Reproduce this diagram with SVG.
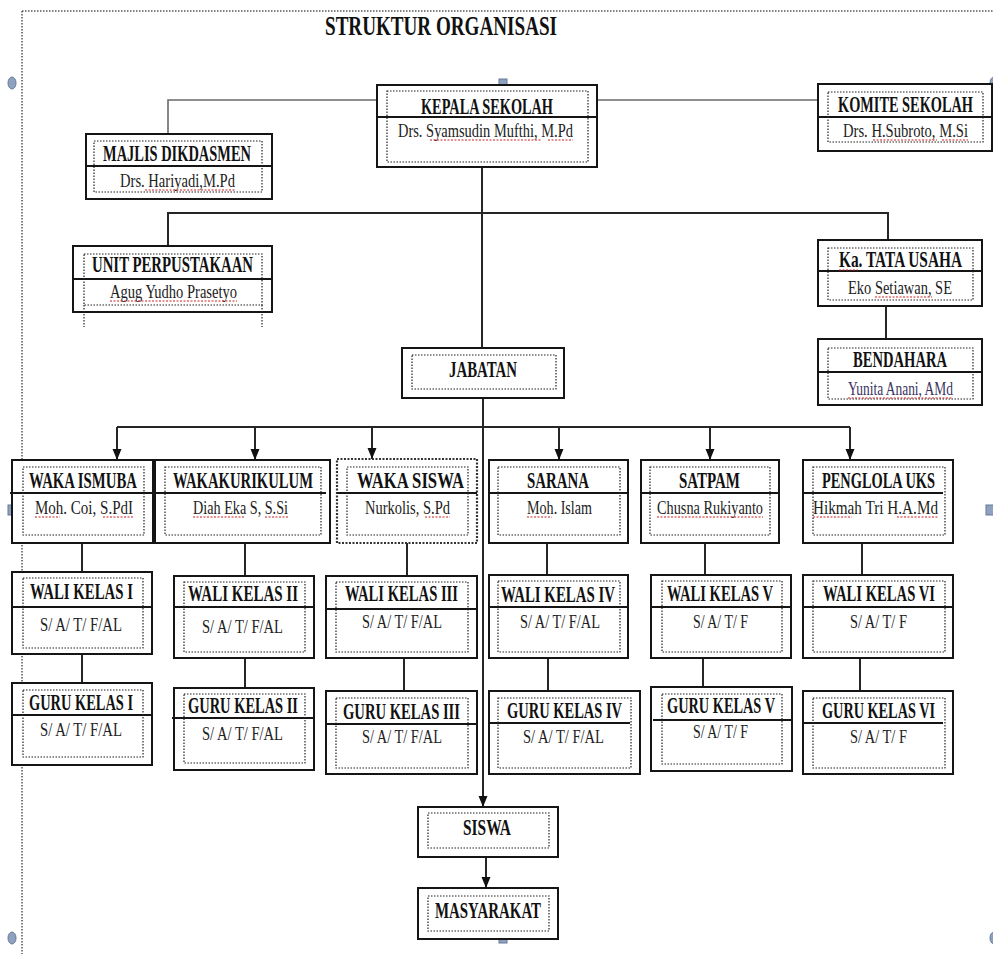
<svg xmlns="http://www.w3.org/2000/svg" width="993" height="954" viewBox="0 0 993 954">
<defs>
<style>
.box{fill:#fff;stroke:#151515;stroke-width:2}
.boxd{fill:#fff;stroke:#333;stroke-width:2.2;stroke-dasharray:2 1.5}
.dv{stroke:#151515;stroke-width:2}
.in{fill:none;stroke:#222;stroke-width:1.2;stroke-dasharray:1.5 1.5}
.t{font-family:"Liberation Serif","Times New Roman",serif;font-weight:bold;font-size:14.3px;fill:#111}
.s{font-family:"Liberation Serif","Times New Roman",serif;font-size:14.4px;fill:#222}
.c{stroke:#262626;stroke-width:2;fill:none}
.cl{stroke:#6a6a6a;stroke-width:1.6;fill:none}
.ca{stroke:#262626;stroke-width:2;fill:none;marker-end:url(#ar)}
.sq{stroke:#d02020;stroke-width:1.2;stroke-dasharray:2 1.5;fill:none}
.fr{stroke:#555;stroke-width:1.5;stroke-dasharray:1.5 1.5;fill:none}
.h{fill:#8ea2bf;stroke:#66799a;stroke-width:1}
</style>
<marker id="ar" markerUnits="userSpaceOnUse" markerWidth="12" markerHeight="12" viewBox="0 0 12 12" refX="11" refY="6" orient="auto">
<path d="M0,1.5 L11,6 L0,10.5 Z" fill="#111"/>
</marker>
</defs>
<rect width="993" height="954" fill="#fff"/>
<g id="frame">
<line class="fr" x1="22" y1="11" x2="22" y2="954"/>
<line class="fr" x1="22" y1="11" x2="993" y2="11"/>
</g>
<g id="handles">
<ellipse class="h" cx="12" cy="83" rx="4" ry="6"/>
<ellipse class="h" cx="12" cy="938" rx="4" ry="6"/>
<ellipse class="h" cx="994" cy="83" rx="4" ry="6"/>
<ellipse class="h" cx="994" cy="938" rx="4" ry="6"/>
<rect class="h" x="499" y="79" width="8" height="10"/>
<rect class="h" x="8" y="505" width="8" height="10"/>
<rect class="h" x="986" y="505" width="8" height="10"/>
<rect class="h" x="499" y="933" width="8" height="10"/>
</g>
<text id="title" class="t" style="font-size:19.1px" transform="translate(325,35) scale(1,1.41)" textLength="232" lengthAdjust="spacingAndGlyphs">STRUKTUR ORGANISASI</text>
<g id="connectors">
<path class="cl" d="M377 100 H168 V134"/>
<path class="cl" d="M597 100 H818"/>
<path class="c" d="M482 167 V348"/>
<path class="c" d="M168 246 V213 H888 V240"/>
<path class="c" d="M886 306 V339"/>
<path class="ca" d="M483 398 V807"/>
<path class="c" d="M117 427 H850"/>
<path class="ca" d="M117 427 V460"/>
<path class="ca" d="M255 427 V460"/>
<path class="ca" d="M372 427 V459"/>
<path class="ca" d="M559 427 V460"/>
<path class="ca" d="M710 427 V460"/>
<path class="ca" d="M850 427 V460"/>
<path class="c" d="M82 543 V572 M245 543 V576 M407 543 V576 M547 543 V575 M705 543 V575 M862 543 V575"/>
<path class="c" d="M82 654 V683 M245 658 V688 M404 658 V691 M548 658 V691 M703 658 V687 M860 658 V691"/>
<path class="ca" d="M486 857 V888"/>
</g>
<g id="kepala">
<rect class="box" x="377" y="85" width="220" height="82"/>
<line class="dv" x1="377" y1="117" x2="597" y2="117"/>
<rect class="in" x="387" y="91" width="201" height="71"/>
<text class="t" transform="translate(421,114) scale(1,1.55)" textLength="132" lengthAdjust="spacingAndGlyphs">KEPALA SEKOLAH</text>
<text class="s" transform="translate(398,137) scale(1,1.32)" textLength="175" lengthAdjust="spacingAndGlyphs">Drs. Syamsudin Mufthi, M.Pd</text>
<path class="sq" d="M430 140 H542 M548 140 H573"/>
</g>
<g id="majlis">
<rect class="box" x="86" y="134" width="186" height="65"/>
<line class="dv" x1="86" y1="166" x2="272" y2="166"/>
<rect class="in" x="94" y="141" width="168" height="51"/>
<text class="t" transform="translate(103,161) scale(1,1.55)" textLength="148" lengthAdjust="spacingAndGlyphs">MAJLIS DIKDASMEN</text>
<text class="s" transform="translate(120,187) scale(1,1.32)" textLength="115" lengthAdjust="spacingAndGlyphs">Drs. Hariyadi,M.Pd</text>
<path class="sq" d="M145 190 H235"/>
</g>
<g id="komite">
<rect class="box" x="818" y="84" width="174" height="67"/>
<line class="dv" x1="818" y1="117" x2="992" y2="117"/>
<rect class="in" x="828" y="92" width="155" height="50"/>
<text class="t" transform="translate(838,112) scale(1,1.55)" textLength="135" lengthAdjust="spacingAndGlyphs">KOMITE SEKOLAH</text>
<text class="s" transform="translate(843,137) scale(1,1.32)" textLength="125" lengthAdjust="spacingAndGlyphs">Drs. H.Subroto, M.Si</text>
<path class="sq" d="M873 140 H937 M942 140 H968"/>
</g>
<g id="perpustakaan">
<rect class="box" x="73" y="246" width="199" height="66"/>
<line class="dv" x1="73" y1="279" x2="272" y2="279"/>
<rect class="in" x="84" y="254" width="178" height="51"/>
<path class="in" d="M84 305 V327 M262 305 V327"/>
<text class="t" transform="translate(92,272) scale(1,1.55)" textLength="161" lengthAdjust="spacingAndGlyphs">UNIT PERPUSTAKAAN</text>
<text class="s" transform="translate(110,298) scale(1,1.32)" textLength="127" lengthAdjust="spacingAndGlyphs">Agug Yudho Prasetyo</text>
<path class="sq" d="M110 301 H237"/>
</g>
<g id="tatausaha">
<rect class="box" x="818" y="240" width="164" height="66"/>
<line class="dv" x1="818" y1="271" x2="982" y2="271"/>
<rect class="in" x="828" y="248" width="145" height="52"/>
<text class="t" transform="translate(839,267) scale(1,1.55)" textLength="123" lengthAdjust="spacingAndGlyphs">Ka. TATA USAHA</text>
<text class="s" transform="translate(848,294) scale(1,1.32)" textLength="104" lengthAdjust="spacingAndGlyphs">Eko Setiawan, SE</text>
<path class="sq" d="M839 270 H858 M875 297 H932"/>
</g>
<g id="bendahara">
<rect class="box" x="818" y="339" width="164" height="66"/>
<line class="dv" x1="818" y1="372" x2="982" y2="372"/>
<rect class="in" x="828" y="348" width="145" height="51"/>
<text class="t" transform="translate(853,367) scale(1,1.55)" textLength="94" lengthAdjust="spacingAndGlyphs">BENDAHARA</text>
<text class="s" transform="translate(848,395) scale(1,1.32)" textLength="105" lengthAdjust="spacingAndGlyphs" style="fill:#3a3560">Yunita Anani, AMd</text>
<path class="sq" d="M848 398 H953"/>
</g>
<g id="jabatan">
<rect class="box" x="402" y="348" width="162" height="50"/>
<rect class="in" x="412" y="355" width="144" height="34"/>
<text class="t" transform="translate(449,377) scale(1,1.55)" textLength="68" lengthAdjust="spacingAndGlyphs">JABATAN</text>
</g>
<g id="waka-ismuba">
<rect class="box" x="12" y="460" width="141" height="83"/>
<line class="dv" x1="10" y1="493" x2="153" y2="493"/>
<rect class="in" x="23" y="467" width="121" height="68"/>
<text class="t" transform="translate(29,488) scale(1,1.55)" textLength="108" lengthAdjust="spacingAndGlyphs">WAKA ISMUBA</text>
<text class="s" transform="translate(35,514) scale(1,1.32)" textLength="98" lengthAdjust="spacingAndGlyphs">Moh. Coi, S.PdI</text>
<path class="sq" d="M35 517 H60 M103 517 H133"/>
</g>
<g id="waka-kurikulum">
<rect class="box" x="155" y="460" width="175" height="83"/>
<line class="dv" x1="155" y1="493" x2="326" y2="493"/>
<rect class="in" x="165" y="467" width="156" height="68"/>
<text class="t" transform="translate(173,488) scale(1,1.55)" textLength="140" lengthAdjust="spacingAndGlyphs">WAKAKURIKULUM</text>
<text class="s" transform="translate(193,514) scale(1,1.32)" textLength="95" lengthAdjust="spacingAndGlyphs">Diah Eka S, S.Si</text>
<path class="sq" d="M193 517 H245 M265 517 H288"/>
</g>
<g id="waka-siswa">
<rect class="boxd" x="337" y="459" width="140" height="84"/>
<line class="dv" x1="337" y1="493" x2="477" y2="493"/>
<rect class="in" x="347" y="467" width="121" height="68"/>
<text class="t" transform="translate(357,488) scale(1,1.55)" textLength="107" lengthAdjust="spacingAndGlyphs">WAKA SISWA</text>
<text class="s" transform="translate(365,514) scale(1,1.32)" textLength="85" lengthAdjust="spacingAndGlyphs">Nurkolis, S.Pd</text>
<path class="sq" d="M425 517 H450"/>
</g>
<g id="sarana">
<rect class="box" x="489" y="460" width="139" height="83"/>
<line class="dv" x1="489" y1="493" x2="628" y2="493"/>
<rect class="in" x="498" y="467" width="122" height="68"/>
<text class="t" transform="translate(527,488) scale(1,1.55)" textLength="62" lengthAdjust="spacingAndGlyphs">SARANA</text>
<text class="s" transform="translate(527,514) scale(1,1.32)" textLength="65" lengthAdjust="spacingAndGlyphs">Moh. Islam</text>
<path class="sq" d="M527 517 H552"/>
</g>
<g id="satpam">
<rect class="box" x="641" y="460" width="138" height="83"/>
<line class="dv" x1="641" y1="493" x2="779" y2="493"/>
<rect class="in" x="650" y="467" width="120" height="68"/>
<text class="t" transform="translate(679,488) scale(1,1.55)" textLength="61" lengthAdjust="spacingAndGlyphs">SATPAM</text>
<text class="s" transform="translate(657,514) scale(1,1.32)" textLength="106" lengthAdjust="spacingAndGlyphs">Chusna Rukiyanto</text>
<path class="sq" d="M657 517 H763"/>
</g>
<g id="penglola-uks">
<rect class="box" x="803" y="460" width="150" height="83"/>
<line class="dv" x1="803" y1="493" x2="943" y2="493"/>
<rect class="in" x="813" y="467" width="132" height="68"/>
<text class="t" transform="translate(822,488) scale(1,1.55)" textLength="113" lengthAdjust="spacingAndGlyphs">PENGLOLA UKS</text>
<text class="s" transform="translate(813,514) scale(1,1.32)" textLength="125" lengthAdjust="spacingAndGlyphs">Hikmah Tri H.A.Md</text>
<path class="sq" d="M813 517 H852 M897 517 H938"/>
</g>
<g id="wali-1">
<rect class="box" x="12" y="572" width="140" height="82"/>
<line class="dv" x1="12" y1="607" x2="152" y2="607"/>
<rect class="in" x="23" y="578" width="120" height="70"/>
<text class="t" transform="translate(30,599) scale(1,1.55)" textLength="103" lengthAdjust="spacingAndGlyphs">WALI KELAS I</text>
<text class="s" transform="translate(40,631) scale(1,1.32)" textLength="82" lengthAdjust="spacingAndGlyphs">S/ A/ T/ F/AL</text>
</g>
<g id="wali-2">
<rect class="box" x="174" y="576" width="140" height="82"/>
<line class="dv" x1="174" y1="607" x2="314" y2="607"/>
<rect class="in" x="184" y="582" width="121" height="70"/>
<text class="t" transform="translate(188,601) scale(1,1.55)" textLength="110" lengthAdjust="spacingAndGlyphs">WALI KELAS II</text>
<text class="s" transform="translate(202,633) scale(1,1.32)" textLength="81" lengthAdjust="spacingAndGlyphs">S/ A/ T/ F/AL</text>
</g>
<g id="wali-3">
<rect class="box" x="326" y="576" width="151" height="82"/>
<line class="dv" x1="326" y1="609" x2="477" y2="609"/>
<rect class="in" x="336" y="582" width="132" height="70"/>
<text class="t" transform="translate(345,601) scale(1,1.55)" textLength="113" lengthAdjust="spacingAndGlyphs">WALI KELAS III</text>
<text class="s" transform="translate(362,628) scale(1,1.32)" textLength="80" lengthAdjust="spacingAndGlyphs">S/ A/ T/ F/AL</text>
</g>
<g id="wali-4">
<rect class="box" x="489" y="575" width="139" height="83"/>
<line class="dv" x1="489" y1="607" x2="628" y2="607"/>
<rect class="in" x="498" y="581" width="122" height="71"/>
<text class="t" transform="translate(501,602) scale(1,1.55)" textLength="114" lengthAdjust="spacingAndGlyphs">WALI KELAS IV</text>
<text class="s" transform="translate(520,628) scale(1,1.32)" textLength="80" lengthAdjust="spacingAndGlyphs">S/ A/ T/ F/AL</text>
</g>
<g id="wali-5">
<rect class="box" x="651" y="575" width="140" height="83"/>
<line class="dv" x1="651" y1="607" x2="791" y2="607"/>
<rect class="in" x="662" y="581" width="120" height="71"/>
<text class="t" transform="translate(667,601) scale(1,1.55)" textLength="106" lengthAdjust="spacingAndGlyphs">WALI KELAS V</text>
<text class="s" transform="translate(693,628) scale(1,1.32)" textLength="55" lengthAdjust="spacingAndGlyphs">S/ A/ T/ F</text>
</g>
<g id="wali-6">
<rect class="box" x="803" y="575" width="150" height="83"/>
<line class="dv" x1="803" y1="607" x2="953" y2="607"/>
<rect class="in" x="813" y="581" width="132" height="71"/>
<text class="t" transform="translate(823,601) scale(1,1.55)" textLength="112" lengthAdjust="spacingAndGlyphs">WALI KELAS VI</text>
<text class="s" transform="translate(850,628) scale(1,1.32)" textLength="57" lengthAdjust="spacingAndGlyphs">S/ A/ T/ F</text>
</g>
<g id="guru-1">
<rect class="box" x="12" y="683" width="140" height="82"/>
<line class="dv" x1="12" y1="715" x2="152" y2="715"/>
<rect class="in" x="23" y="690" width="120" height="67"/>
<text class="t" transform="translate(29,710) scale(1,1.55)" textLength="104" lengthAdjust="spacingAndGlyphs">GURU KELAS I</text>
<text class="s" transform="translate(40,736) scale(1,1.32)" textLength="82" lengthAdjust="spacingAndGlyphs">S/ A/ T/ F/AL</text>
</g>
<g id="guru-2">
<rect class="box" x="174" y="688" width="140" height="82"/>
<line class="dv" x1="172" y1="718" x2="314" y2="718"/>
<rect class="in" x="184" y="694" width="121" height="69"/>
<text class="t" transform="translate(188,713) scale(1,1.55)" textLength="110" lengthAdjust="spacingAndGlyphs">GURU KELAS II</text>
<text class="s" transform="translate(202,740) scale(1,1.32)" textLength="81" lengthAdjust="spacingAndGlyphs">S/ A/ T/ F/AL</text>
</g>
<g id="guru-3">
<rect class="box" x="326" y="691" width="151" height="83"/>
<line class="dv" x1="326" y1="724" x2="477" y2="724"/>
<rect class="in" x="336" y="698" width="132" height="70"/>
<text class="t" transform="translate(343,719) scale(1,1.55)" textLength="117" lengthAdjust="spacingAndGlyphs">GURU KELAS III</text>
<text class="s" transform="translate(362,743) scale(1,1.32)" textLength="80" lengthAdjust="spacingAndGlyphs">S/ A/ T/ F/AL</text>
</g>
<g id="guru-4">
<rect class="box" x="489" y="691" width="151" height="83"/>
<line class="dv" x1="489" y1="723" x2="630" y2="723"/>
<rect class="in" x="498" y="698" width="133" height="70"/>
<text class="t" transform="translate(507,718) scale(1,1.55)" textLength="115" lengthAdjust="spacingAndGlyphs">GURU KELAS IV</text>
<text class="s" transform="translate(523,743) scale(1,1.32)" textLength="81" lengthAdjust="spacingAndGlyphs">S/ A/ T/ F/AL</text>
</g>
<g id="guru-5">
<rect class="box" x="651" y="687" width="141" height="84"/>
<line class="dv" x1="653" y1="720" x2="792" y2="720"/>
<rect class="in" x="662" y="694" width="120" height="70"/>
<text class="t" transform="translate(667,713) scale(1,1.55)" textLength="108" lengthAdjust="spacingAndGlyphs">GURU KELAS V</text>
<text class="s" transform="translate(693,738) scale(1,1.32)" textLength="55" lengthAdjust="spacingAndGlyphs">S/ A/ T/ F</text>
</g>
<g id="guru-6">
<rect class="box" x="803" y="691" width="150" height="83"/>
<line class="dv" x1="803" y1="723" x2="943" y2="723"/>
<rect class="in" x="813" y="698" width="132" height="70"/>
<text class="t" transform="translate(822,718) scale(1,1.55)" textLength="113" lengthAdjust="spacingAndGlyphs">GURU KELAS VI</text>
<text class="s" transform="translate(850,743) scale(1,1.32)" textLength="57" lengthAdjust="spacingAndGlyphs">S/ A/ T/ F</text>
</g>
<g id="siswa">
<rect class="box" x="418" y="807" width="140" height="50"/>
<rect class="in" x="428" y="813" width="121" height="35"/>
<text class="t" transform="translate(463,835) scale(1,1.55)" textLength="48" lengthAdjust="spacingAndGlyphs">SISWA</text>
</g>
<g id="masyarakat">
<rect class="box" x="418" y="888" width="140" height="51"/>
<rect class="in" x="428" y="896" width="121" height="35"/>
<text class="t" transform="translate(435,918) scale(1,1.55)" textLength="106" lengthAdjust="spacingAndGlyphs">MASYARAKAT</text>
</g>
</svg>
